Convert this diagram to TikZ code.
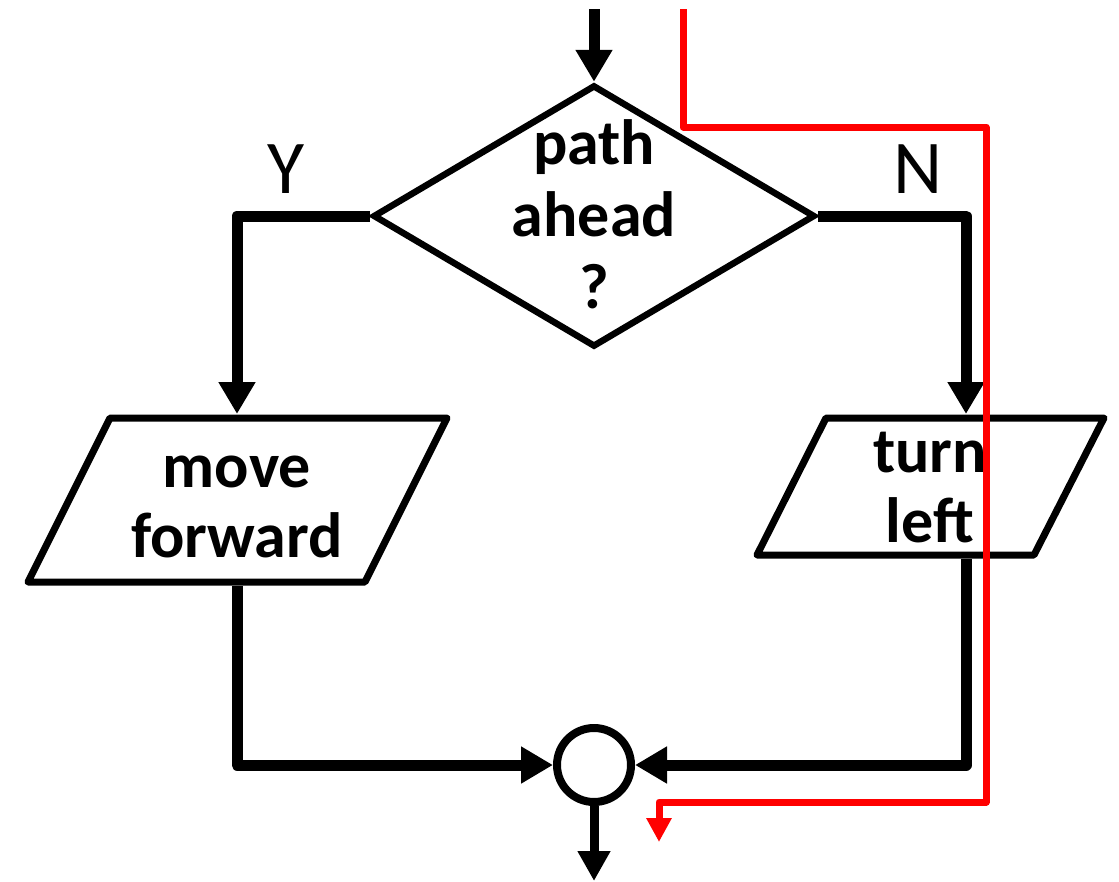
\documentclass[tikz,border=0pt]{standalone}
\usepackage{fontspec}
\setmainfont{Carlito}
\usetikzlibrary{arrows.meta,shapes.geometric}
\begin{document}
\begin{tikzpicture}[x=1pt,y=-1pt,
  conn/.style={line width=11pt,line join=round,-{Triangle[width=35pt,length=32pt]}},
  thinconn/.style={line width=9pt,-{Triangle[width=31pt,length=30pt]}},
  redpath/.style={draw={rgb,255:red,255;green,0;blue,0},line width=7pt,line join=round,-{Triangle[width=24pt,length=24pt]}},
  boxtext/.style={font=\bfseries\fontsize{64}{70}\selectfont,align=center,inner sep=0pt},
  yn/.style={font=\fontsize{76}{84}\selectfont,inner sep=0pt,anchor=base},
  io/.style={line width=7pt,line join=round}]
\useasboundingbox (0,0) rectangle (1119,881);
% decision
\node[diamond,draw,line width=6.5pt,minimum width=442pt,minimum height=262pt,inner sep=0pt] (d) at (594,216) {};
\node[boxtext,font=\bfseries\fontsize{64}{72}\selectfont] (dt) at (594,214) {path\\ahead\\?};
\node[yn] (y) at (286,193) {Y};
\node[yn] (n) at (918,193) {N};
% parallelograms
\draw[io] (110,418) -- (447,418) -- (365,582) -- (28,582) -- cycle;
\node[boxtext] (mf) at (237,507) {move\\forward};
\draw[io] (826,418) -- (1104,418) -- (1034,555) -- (757,555) -- cycle;
\node[boxtext] (tl) at (930,488) {turn\\left};
% junction
\node[circle,draw,line width=8pt,minimum size=74pt,inner sep=0pt] (c) at (594,765) {};
% coordinates
\coordinate (top) at (594,9);
\coordinate (mftop) at (237,414);
\coordinate (tltop) at (966,414);
\coordinate (mfbot) at (237,586);
\coordinate (tlbot) at (966,559);
\coordinate (bot) at (594,881);
% connectors
\draw[conn] (top) -- (d.north);
\draw[conn] (d.west) -| (mftop);
\draw[conn] (d.east) -| (tltop);
\draw[conn] (mfbot) |- (c.west);
\draw[conn] (tlbot) |- (c.east);
\draw[thinconn] (c.south) -- (bot);
% red trace
\coordinate (rs) at (683,9);
\coordinate (ra) at (986,127);
\coordinate (rb) at (659,802);
\coordinate (re) at (659,842);
\draw[redpath] (rs) |- (ra) |- (rb) -- (re);
\end{tikzpicture}
\end{document}
